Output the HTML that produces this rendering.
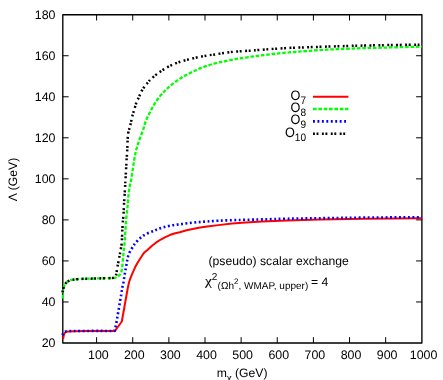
<!DOCTYPE html>
<html><head><meta charset="utf-8">
<style>
html,body{margin:0;padding:0;background:#fff;}
svg{display:block;will-change:transform;}
text{text-rendering:geometricPrecision;font-family:"Liberation Sans",sans-serif;font-size:12.2px;fill:#000;}
</style></head>
<body>
<svg width="443" height="380" viewBox="0 0 443 380">
<rect x="0" y="0" width="443" height="380" fill="#fff"/>
<defs><clipPath id="cp"><rect x="61" y="10" width="362.10" height="336"/></clipPath></defs>
<g fill="none" stroke="#000" stroke-width="1.35" stroke-linejoin="round">
<path d="M96.60 343.00 V337.20 M96.60 14.70 V20.50 M132.73 343.00 V337.20 M132.73 14.70 V20.50 M168.87 343.00 V337.20 M168.87 14.70 V20.50 M205.00 343.00 V337.20 M205.00 14.70 V20.50 M241.13 343.00 V337.20 M241.13 14.70 V20.50 M277.26 343.00 V337.20 M277.26 14.70 V20.50 M313.40 343.00 V337.20 M313.40 14.70 V20.50 M349.53 343.00 V337.20 M349.53 14.70 V20.50 M385.66 343.00 V337.20 M385.66 14.70 V20.50 M62.80 301.96 H68.60 M421.90 301.96 H416.10 M62.80 260.93 H68.60 M421.90 260.93 H416.10 M62.80 219.89 H68.60 M421.90 219.89 H416.10 M62.80 178.85 H68.60 M421.90 178.85 H416.10 M62.80 137.81 H68.60 M421.90 137.81 H416.10 M62.80 96.78 H68.60 M421.90 96.78 H416.10 M62.80 55.74 H68.60 M421.90 55.74 H416.10 " stroke-width="1.0"/>
<path d="M62.8 14.7 H421.9 V343.0 H62.8 Z"/>
</g>
<g fill="none" stroke-linejoin="round" clip-path="url(#cp)">
<path d="M63.20 338.90 C63.22 338.75 63.17 338.72 63.30 338.00 C63.43 337.28 63.68 335.52 64.00 334.60 C64.32 333.68 64.58 333.02 65.20 332.50 C65.82 331.98 66.22 331.72 67.70 331.50 C69.18 331.28 68.72 331.28 74.10 331.20 C79.48 331.12 93.20 331.03 100.00 331.00 C106.80 330.97 112.42 331.00 114.90 331.00 L121.80 321.50 L127.70 288.50 L128.96 282.50 L130.75 277.40 L133.06 271.80 L135.31 266.80 L137.73 262.60 L140.10 258.70 L142.36 255.20 L144.60 252.20 L147.70 249.65 L151.70 246.05 L156.25 242.45 L160.80 239.53 L165.30 237.12 L169.80 235.06 L174.30 233.56 L179.70 232.22 L186.60 230.30 L198.80 227.70 L207.00 226.50 L218.50 225.13 L232.10 223.46 L245.60 222.50 L262.00 221.50 L287.10 220.50 L319.60 219.50 L365.00 218.70 L421.90 218.20" stroke="#f00" stroke-width="2.0"/>
<path d="M62.90 298.60 C62.92 297.35 62.80 293.13 63.00 291.10 C63.20 289.07 63.70 287.63 64.10 286.40 C64.50 285.17 64.72 284.57 65.40 283.70 C66.08 282.83 67.18 281.83 68.20 281.20 C69.22 280.57 70.03 280.23 71.50 279.90 C72.97 279.57 74.73 279.38 77.00 279.20 C79.27 279.02 81.50 278.93 85.10 278.80 C88.70 278.67 94.08 278.53 98.60 278.40 C103.12 278.27 109.42 278.10 112.20 278.00 C114.98 277.90 114.45 277.98 115.30 277.80 C116.15 277.62 116.70 277.25 117.30 276.90 C117.90 276.55 118.40 276.15 118.90 275.70 C119.40 275.25 119.90 274.82 120.31 274.20 C120.72 273.58 121.05 273.12 121.35 272.00 C121.65 270.88 121.90 269.08 122.12 267.50 C122.34 265.92 122.50 264.47 122.69 262.50 C122.88 260.53 123.02 257.95 123.24 255.70 C123.46 253.45 123.74 251.48 123.99 249.00 C124.24 246.52 124.50 243.88 124.74 240.80 C124.98 237.72 125.23 233.87 125.45 230.50 C125.67 227.13 125.78 223.82 126.05 220.60 C126.32 217.38 126.74 214.25 127.05 211.20 C127.36 208.15 127.62 205.25 127.89 202.30 C128.16 199.35 128.35 196.32 128.69 193.50 C129.03 190.68 129.49 187.72 129.91 185.40 C130.33 183.08 130.72 182.28 131.19 179.60 C131.66 176.92 132.22 172.60 132.73 169.30 C133.24 166.00 133.76 162.73 134.26 159.80 C134.76 156.87 135.18 154.18 135.75 151.70 C136.32 149.22 137.00 147.17 137.71 144.90 C138.42 142.63 139.11 140.50 139.98 138.10 C140.85 135.70 142.11 132.97 142.95 130.50 C143.79 128.03 144.21 125.62 145.02 123.30 C145.83 120.98 146.76 118.85 147.80 116.60 C148.84 114.35 150.14 111.95 151.28 109.80 C152.42 107.65 153.40 105.73 154.66 103.70 C155.92 101.67 157.37 99.52 158.85 97.60 C160.33 95.68 162.18 93.67 163.52 92.20 C164.86 90.73 165.70 89.88 166.90 88.76 C168.10 87.64 168.82 86.97 170.70 85.47 C172.58 83.97 175.72 81.47 178.20 79.77 C180.68 78.07 183.12 76.64 185.60 75.27 C188.08 73.90 190.72 72.67 193.10 71.53 C195.48 70.39 197.40 69.42 199.90 68.40 C202.40 67.38 205.37 66.31 208.10 65.42 C210.83 64.53 213.47 63.73 216.30 63.04 C219.13 62.34 222.17 61.86 225.10 61.25 C228.03 60.64 230.97 59.94 233.90 59.40 C236.83 58.86 239.77 58.45 242.70 58.00 C245.63 57.55 248.95 57.08 251.50 56.73 C254.05 56.38 255.62 56.19 258.00 55.88 C260.38 55.57 262.68 55.23 265.80 54.85 C268.92 54.47 273.08 53.95 276.70 53.57 C280.32 53.19 283.90 52.87 287.50 52.54 C291.10 52.21 294.62 51.89 298.30 51.61 C301.98 51.33 305.40 51.15 309.60 50.84 C313.80 50.53 318.92 50.04 323.50 49.77 C328.08 49.50 332.58 49.41 337.10 49.21 C341.62 49.02 345.70 48.79 350.60 48.60 C355.50 48.41 359.58 48.30 366.50 48.10 C373.42 47.90 382.87 47.65 392.10 47.40 C401.33 47.15 416.93 46.73 421.90 46.60" stroke="#0f0" stroke-width="2.3" stroke-dasharray="3.6 1.75"/>
<path d="M62.40 335.20 C62.60 334.83 63.17 333.58 63.60 333.00 C64.03 332.42 64.32 332.00 65.00 331.70 C65.68 331.40 66.18 331.32 67.70 331.20 C69.22 331.08 68.72 331.05 74.10 331.00 C79.48 330.95 93.43 330.92 100.00 330.90 C106.57 330.88 111.05 331.12 113.50 330.90 C115.95 330.68 114.35 330.32 114.70 329.60 C115.05 328.88 115.23 328.23 115.60 326.60 C115.97 324.97 116.45 322.28 116.90 319.80 C117.35 317.32 117.80 314.63 118.30 311.70 C118.80 308.77 119.40 305.13 119.90 302.20 C120.40 299.27 120.93 296.38 121.30 294.10 C121.67 291.82 121.78 290.20 122.10 288.50 C122.42 286.80 122.90 285.40 123.20 283.90 C123.50 282.40 123.67 280.98 123.90 279.50 C124.13 278.02 124.37 276.43 124.60 275.00 C124.83 273.57 125.03 272.32 125.30 270.90 C125.57 269.47 125.93 267.88 126.20 266.45 C126.47 265.02 126.67 263.66 126.90 262.30 C127.13 260.94 127.25 259.73 127.60 258.30 C127.95 256.87 128.38 255.19 129.00 253.70 C129.62 252.21 130.52 250.70 131.30 249.34 C132.08 247.98 133.05 246.55 133.70 245.54 C134.35 244.53 134.27 244.39 135.20 243.30 C136.13 242.21 137.95 240.28 139.30 239.00 C140.65 237.72 141.72 236.64 143.30 235.60 C144.88 234.56 146.98 233.57 148.80 232.77 C150.62 231.97 152.87 231.33 154.20 230.80 C155.53 230.27 155.25 230.20 156.80 229.60 C158.35 229.00 161.02 227.90 163.50 227.20 C165.98 226.50 168.98 225.88 171.70 225.40 C174.42 224.92 177.10 224.67 179.80 224.30 C182.50 223.93 184.97 223.55 187.90 223.20 C190.83 222.85 194.22 222.48 197.40 222.20 C200.58 221.92 203.48 221.75 207.00 221.50 C210.52 221.25 214.32 220.92 218.50 220.70 C222.68 220.48 227.58 220.35 232.10 220.20 C236.62 220.05 240.45 219.93 245.60 219.80 C250.75 219.67 256.08 219.58 263.00 219.40 C269.92 219.22 277.67 218.90 287.10 218.70 C296.53 218.50 306.62 218.38 319.60 218.20 C332.58 218.02 347.95 217.77 365.00 217.60 C382.05 217.43 412.42 217.27 421.90 217.20" stroke="#00f" stroke-width="2.6" stroke-dasharray="1.9 2.55"/>
<path d="M62.60 292.30 C62.65 291.92 62.65 290.98 62.90 290.00 C63.15 289.02 63.68 287.45 64.10 286.40 C64.52 285.35 64.72 284.57 65.40 283.70 C66.08 282.83 67.18 281.83 68.20 281.20 C69.22 280.57 70.03 280.23 71.50 279.90 C72.97 279.57 74.73 279.38 77.00 279.20 C79.27 279.02 81.50 278.93 85.10 278.80 C88.70 278.67 94.08 278.53 98.60 278.40 C103.12 278.27 109.60 278.12 112.20 278.00 C114.80 277.88 113.68 277.88 114.20 277.70 C114.72 277.52 115.02 277.25 115.30 276.90 C115.58 276.55 115.70 276.32 115.90 275.60 C116.10 274.88 116.25 274.02 116.50 272.60 C116.75 271.18 117.10 268.78 117.40 267.10 C117.70 265.42 117.93 264.40 118.30 262.50 C118.67 260.60 119.22 257.73 119.60 255.70 C119.98 253.67 120.25 252.33 120.60 250.30 C120.95 248.27 121.45 245.75 121.70 243.50 C121.95 241.25 122.00 238.97 122.10 236.80 C122.20 234.63 122.15 233.30 122.30 230.50 C122.45 227.70 122.77 223.22 123.00 220.00 C123.23 216.78 123.52 214.15 123.70 211.20 C123.88 208.25 123.93 205.25 124.10 202.30 C124.27 199.35 124.52 196.43 124.70 193.50 C124.88 190.57 125.07 187.02 125.20 184.70 C125.33 182.38 125.37 181.95 125.50 179.60 C125.63 177.25 125.83 173.67 126.00 170.60 C126.17 167.53 126.32 164.25 126.50 161.20 C126.68 158.15 126.93 155.25 127.10 152.30 C127.27 149.35 127.34 146.53 127.50 143.50 C127.66 140.47 127.67 136.78 128.04 134.10 C128.41 131.42 129.29 129.20 129.74 127.40 C130.19 125.60 130.35 125.10 130.76 123.30 C131.17 121.50 131.61 118.85 132.18 116.60 C132.75 114.35 133.52 112.07 134.20 109.80 C134.88 107.53 135.45 105.15 136.25 103.00 C137.05 100.85 138.17 98.74 138.99 96.90 C139.81 95.06 140.28 93.66 141.20 91.94 C142.12 90.22 143.33 88.23 144.50 86.60 C145.67 84.97 147.10 83.46 148.20 82.17 C149.30 80.88 149.48 80.32 151.10 78.85 C152.72 77.38 155.53 75.11 157.90 73.37 C160.27 71.63 162.72 69.91 165.30 68.40 C167.88 66.89 170.68 65.48 173.40 64.29 C176.12 63.10 178.77 62.16 181.60 61.28 C184.43 60.41 187.40 59.77 190.40 59.04 C193.40 58.31 196.65 57.53 199.60 56.92 C202.55 56.31 205.32 55.83 208.10 55.38 C210.88 54.93 213.47 54.65 216.30 54.23 C219.13 53.81 222.17 53.28 225.10 52.87 C228.03 52.46 230.97 52.05 233.90 51.75 C236.83 51.45 239.77 51.27 242.70 51.07 C245.63 50.88 248.87 50.76 251.50 50.58 C254.13 50.40 255.67 50.23 258.50 50.00 C261.33 49.77 265.02 49.47 268.50 49.22 C271.98 48.97 275.78 48.73 279.40 48.50 C283.02 48.27 286.58 48.02 290.20 47.85 C293.82 47.68 297.55 47.62 301.10 47.50 C304.65 47.38 307.77 47.23 311.50 47.10 C315.23 46.97 319.23 46.83 323.50 46.70 C327.77 46.57 332.58 46.43 337.10 46.30 C341.62 46.17 345.78 46.03 350.60 45.90 C355.42 45.77 359.08 45.65 366.00 45.50 C372.92 45.35 382.78 45.15 392.10 45.00 C401.42 44.85 416.93 44.67 421.90 44.60" stroke="#000" stroke-width="2.5" stroke-dasharray="1.9 1.65 1.9 3.45"/>
</g>
<g fill="none">
<path d="M313.0 96.65 H348.4" stroke="#f00" stroke-width="2.0"/>
<path d="M313.0 109.0 H348.4" stroke="#0f0" stroke-width="2.3" stroke-dasharray="3.6 1.75"/>
<path d="M313.0 121.4 H348.4" stroke="#00f" stroke-width="2.6" stroke-dasharray="1.9 2.55"/>
<path d="M313.0 133.8 H348.4" stroke="#000" stroke-width="2.5" stroke-dasharray="1.9 1.65 1.9 3.45"/>
</g>
<text x="98.40" y="359.1" text-anchor="middle" style="font-size:12.4px">100</text>
<text x="134.23" y="359.1" text-anchor="middle" style="font-size:12.4px">200</text>
<text x="170.37" y="359.1" text-anchor="middle" style="font-size:12.4px">300</text>
<text x="206.50" y="359.1" text-anchor="middle" style="font-size:12.4px">400</text>
<text x="242.63" y="359.1" text-anchor="middle" style="font-size:12.4px">500</text>
<text x="278.76" y="359.1" text-anchor="middle" style="font-size:12.4px">600</text>
<text x="314.90" y="359.1" text-anchor="middle" style="font-size:12.4px">700</text>
<text x="351.03" y="359.1" text-anchor="middle" style="font-size:12.4px">800</text>
<text x="387.16" y="359.1" text-anchor="middle" style="font-size:12.4px">900</text>
<text x="423.60" y="359.1" text-anchor="middle" style="font-size:12.4px">1000</text>
<text x="55.5" y="347.45" text-anchor="end" style="font-size:12.4px">20</text>
<text x="55.5" y="306.41" text-anchor="end" style="font-size:12.4px">40</text>
<text x="55.5" y="265.38" text-anchor="end" style="font-size:12.4px">60</text>
<text x="55.5" y="224.34" text-anchor="end" style="font-size:12.4px">80</text>
<text x="55.5" y="183.30" text-anchor="end" style="font-size:12.4px">100</text>
<text x="55.5" y="142.26" text-anchor="end" style="font-size:12.4px">120</text>
<text x="55.5" y="101.23" text-anchor="end" style="font-size:12.4px">140</text>
<text x="55.5" y="60.19" text-anchor="end" style="font-size:12.4px">160</text>
<text x="55.5" y="19.15" text-anchor="end" style="font-size:12.4px">180</text>
<text transform="translate(306 99.65) scale(1.04 1.12)" text-anchor="end">O<tspan dy="3.5" font-size="9.7">7</tspan></text>
<text transform="translate(306 112.00) scale(1.04 1.12)" text-anchor="end">O<tspan dy="3.5" font-size="9.7">8</tspan></text>
<text transform="translate(306 124.40) scale(1.04 1.12)" text-anchor="end">O<tspan dy="3.5" font-size="9.7">9</tspan></text>
<text transform="translate(306 136.80) scale(1.04 1.12)" text-anchor="end">O<tspan dy="3.5" font-size="9.7">10</tspan></text>

<text transform="translate(16.6 179.5) rotate(-90)" text-anchor="middle">Λ (GeV)</text>
<text x="242.1" y="376.65" text-anchor="middle">m<tspan dy="3.9" style="font-family:'Liberation Serif',serif;font-size:10.8px" stroke="#000" stroke-width="0.1">χ</tspan><tspan dy="-3.9"> (GeV)</tspan></text>
<text x="208.5" y="264.7">(pseudo) scalar exchange</text>
<text x="205.0" y="285.1" transform="translate(205 0) scale(1.17 1) translate(-205 0)" stroke="#000" stroke-width="0.12" style="font-family:'Liberation Serif',serif;font-size:13.2px">χ</text>
<text x="211.7" y="280.1" style="font-size:10.0px">2</text>
<text x="217.6" y="288.9" style="font-size:10.0px">(Ωh<tspan dy="-4.8" font-size="8">2</tspan><tspan dy="4.8">, WMAP, upper)</tspan></text>
<text x="311.1" y="285.6">= 4</text>
</svg>
</body></html>
